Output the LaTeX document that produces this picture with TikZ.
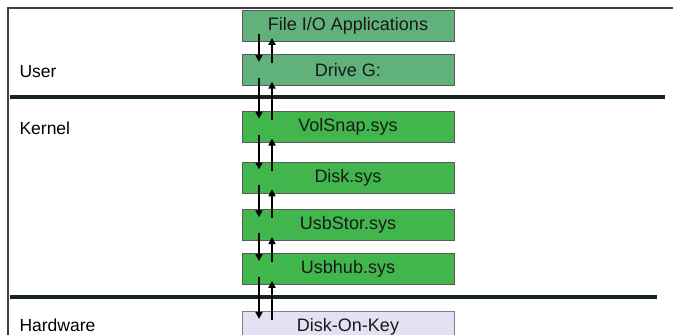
\documentclass[tikz,border=0pt]{standalone}
\usepackage{fontspec}
\setmainfont{Liberation Sans}
\usetikzlibrary{positioning,arrows.meta}

\definecolor{usergreen}{RGB}{96,178,122}
\definecolor{kernelgreen}{RGB}{64,182,76}
\definecolor{hwlilac}{RGB}{226,226,244}
\definecolor{layerline}{RGB}{22,36,28}

\begin{document}
\begin{tikzpicture}[x=1pt, y=-1pt, node distance=12pt,
    layer/.style = {draw=gray!70!black, line width=0.8pt, minimum width=212pt, minimum height=31pt, inner sep=0pt, font=\fontsize{18}{20}\selectfont, text=black!90},
    usr/.style = {layer, fill=usergreen},
    krn/.style = {layer, fill=kernelgreen},
    hw/.style = {layer, fill=hwlilac, draw=gray},
    flow/.style = {line width=2.2pt, -{Triangle[length=7pt,width=7pt]}},
    side/.style = {anchor=west, font=\fontsize{17.5}{20}\selectfont}]
    \useasboundingbox (0,0) rectangle (673,335);
    % frame
    \draw[gray!50!black, line width=1.5pt] (8,335) -- (8,8) -- (674,8);
    \draw[layerline, line width=4pt] (10,97) -- (665,97);
    \draw[layerline, line width=4pt] (10,297) -- (657,297);
    \node[side] (user) at (16,72) {User};
    \node[side] (kernel) at (16,128) {Kernel};
    \node[side] (hardware) at (16,325) {Hardware};
    \node[usr] (fio) at (348,26) {File I/O Applications};
    \node[usr] (drv) [below=12pt of fio] {Drive G:};
    \node[krn] (vol) [below=25pt of drv] {VolSnap.sys};
    \node[krn] (dsk) [below=19pt of vol] {Disk.sys};
    \node[krn] (ust) [below=16pt of dsk] {UsbStor.sys};
    \node[krn] (uhb) [below=12pt of ust] {Usbhub.sys};
    \node[hw] (dok) [below=26pt of uhb] {Disk-On-Key};
    \foreach \a/\b in {fio/drv, drv/vol, vol/dsk, dsk/ust, ust/uhb, uhb/dok} {
        \draw[flow] ([xshift=-89pt,yshift=8pt]\a.south) -- ([xshift=-89pt,yshift=-8pt]\b.north);
        \draw[flow] ([xshift=-76pt,yshift=-9pt]\b.north) -- ([xshift=-76pt,yshift=4pt]\a.south);
    }
\end{tikzpicture}
\end{document}
